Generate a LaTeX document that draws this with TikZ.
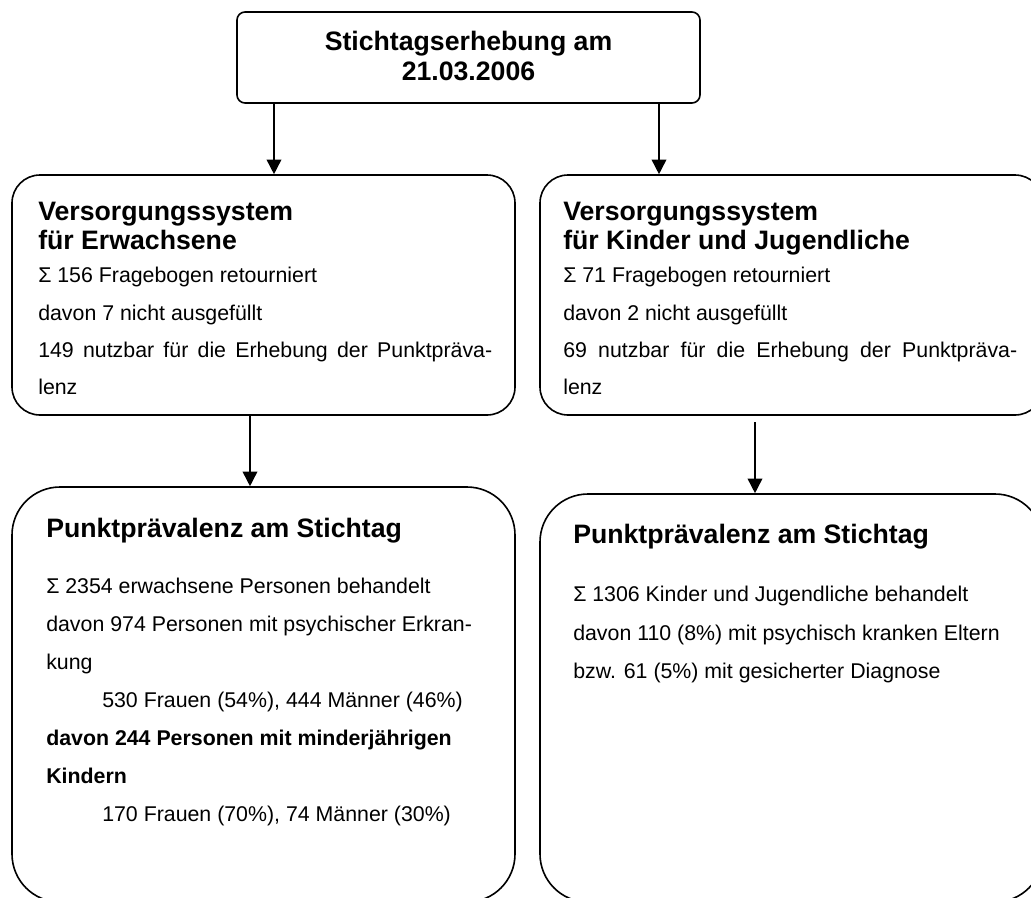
\documentclass[tikz,border=0pt]{standalone}
\usepackage{fontspec}
\setmainfont{Liberation Sans}
\usetikzlibrary{arrows.meta}

\tikzset{
  box/.style={draw, line width=1.2pt, inner sep=0pt},
  head/.style={anchor=base west, inner sep=0pt, font=\fontsize{20}{24}\selectfont\bfseries},
  txt/.style={anchor=base west, inner sep=0pt, font=\fontsize{16}{19}\selectfont},
  arr/.style={line width=1.2pt, -{Triangle[width=11pt,length=11pt]}}
}

\begin{document}
\begin{tikzpicture}[x=0.75pt, y=-0.75pt]
  \path[use as bounding box, clip] (0,0) rectangle (1031,897);

  % boxes
  \node[box, rounded corners=6pt, minimum width=347.25pt, minimum height=68.25pt] (top) at (468.5,57.5) {};
  \node[box, rounded corners=21pt, minimum width=377.25pt, minimum height=180pt] (versE) at (263.5,295) {};
  \node[box, rounded corners=21pt, minimum width=377.25pt, minimum height=180pt] (versK) at (791.5,295) {};
  \node[box, rounded corners=36pt, minimum width=377.25pt, minimum height=311.25pt] (prevE) at (263.5,694.5) {};
  \node[box, rounded corners=36pt, minimum width=377.25pt, minimum height=306pt] (prevK) at (791.5,698) {};

  % top
  \node[head, anchor=base] (top1) at (468.5,50) {Stichtagserhebung am};
  \node[head, anchor=base] (top2) at (468.5,80) {21.03.2006};

  % adults
  \node[head] (versE1) at (38,220) {Versorgungssystem};
  \node[head] (versE2) at (38,249) {für Erwachsene};
  \node[txt] (versE3) at (38,282) {Σ 156 Fragebogen retourniert};
  \node[txt] (versE4) at (38,320) {davon 7 nicht ausgefüllt};
  \node[txt] (versE5) at (38,357) {\makebox[340.5pt][s]{149 nutzbar für die Erhebung der Punktpräva-}};
  \node[txt] (versE6) at (38,394) {lenz};

  % children
  \node[head] (versK1) at (563,220) {Versorgungssystem};
  \node[head] (versK2) at (563,249) {für Kinder und Jugendliche};
  \node[txt] (versK3) at (563,282) {Σ 71 Fragebogen retourniert};
  \node[txt] (versK4) at (563,320) {davon 2 nicht ausgefüllt};
  \node[txt] (versK5) at (563,357) {\makebox[340.5pt][s]{69 nutzbar für die Erhebung der Punktpräva-}};
  \node[txt] (versK6) at (563,394) {lenz};

  % prevalence adults
  \node[head] (prevE1) at (46,537) {Punktprävalenz am Stichtag};
  \node[txt] (prevE2) at (46,593) {Σ 2354 erwachsene Personen behandelt};
  \node[txt] (prevE3) at (46,631) {davon 974 Personen mit psychischer Erkran-};
  \node[txt] (prevE4) at (46,669) {kung};
  \node[txt] (prevE5) at (102,707) {530 Frauen (54\%), 444 Männer (46\%)};
  \node[txt, font=\fontsize{16}{19}\selectfont\bfseries] (prevE6) at (46,745) {davon 244 Personen mit minderjährigen};
  \node[txt, font=\fontsize{16}{19}\selectfont\bfseries] (prevE7) at (46,783) {Kindern};
  \node[txt] (prevE8) at (102,821) {170 Frauen (70\%), 74 Männer (30\%)};

  % prevalence children
  \node[head] (prevK1) at (573,543) {Punktprävalenz am Stichtag};
  \node[txt] (prevK2) at (573,601) {Σ 1306 Kinder und Jugendliche behandelt};
  \node[txt] (prevK3) at (573,640) {davon 110 (8\%) mit psychisch kranken Eltern};
  \node[txt] (prevK4) at (573,678) {bzw. 61 (5\%) mit gesicherter Diagnose};

  % arrows
  \draw[arr] (top.south -| 274,0) -- (versE.north -| 274,0);
  \draw[arr] (top.south -| 659,0) -- (versK.north -| 659,0);
  \draw[arr] (versE.south -| 250,0) -- (prevE.north -| 250,0);
  \draw[arr, shorten <=5pt] (versK.south -| 755,0) -- (prevK.north -| 755,0);
\end{tikzpicture}
\end{document}
